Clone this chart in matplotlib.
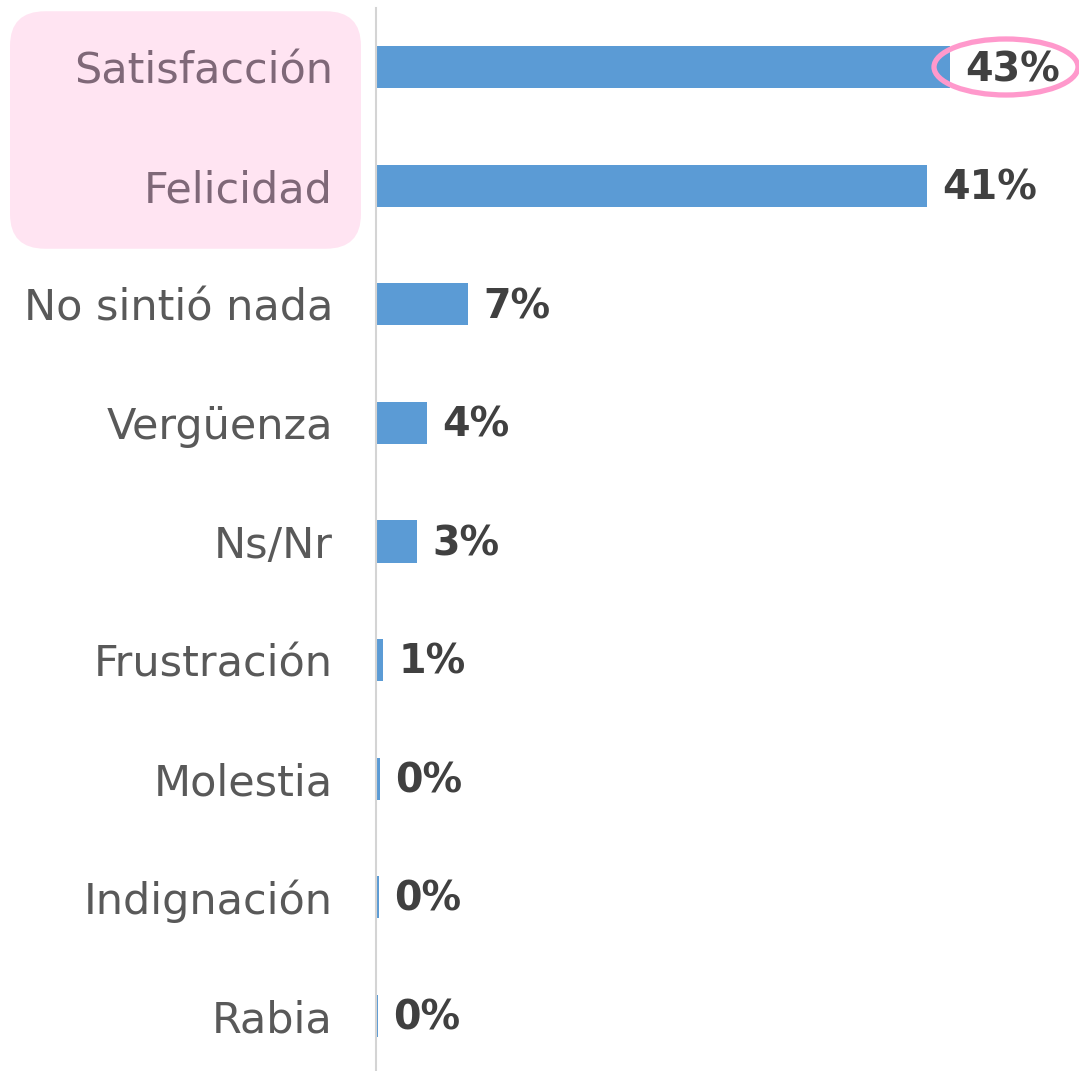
import matplotlib.pyplot as plt
from matplotlib.patches import FancyBboxPatch, Ellipse

categorias = ["Satisfacción", "Felicidad", "No sintió nada", "Vergüenza", "Ns/Nr",
              "Frustración", "Molestia", "Indignación", "Rabia"]
valores = [43.0, 41.3, 6.9, 3.8, 3.1, 0.55, 0.3, 0.2, 0.15]
etiquetas = ["43%", "41%", "7%", "4%", "3%", "1%", "0%", "0%", "0%"]

W, H = 1079, 1071
fig = plt.figure(figsize=(W / 100, H / 100), dpi=100)
ax = fig.add_axes([376 / W, 1 - 1075 / H, 1 - 376 / W, (1075 - 8) / H])
ax.set_zorder(2)
ax.patch.set_alpha(0)

y = list(range(len(categorias)))
ax.barh(y, valores, height=0.355, color="#5B9BD5", zorder=2)
ax.set_ylim(len(categorias) - 0.5, -0.5)
ax.set_xlim(0, 52.7)

for i, (v, t) in enumerate(zip(valores, etiquetas)):
    ax.annotate(t, (v, i), xytext=(11, -2), textcoords="offset points",
                va="center", ha="left", fontsize=28.5, fontweight="bold",
                color="#404040")

ax.set_yticks(y)
ax.set_yticklabels(categorias, fontsize=31, color="#595959")
for i, lab in enumerate(ax.get_yticklabels()):
    if i < 2:
        lab.set_color("#7F6878")
ax.tick_params(axis="y", length=0, pad=31)
ax.set_xticks([])
for s in ["top", "right", "bottom"]:
    ax.spines[s].set_visible(False)
ax.spines["left"].set_color("#D4D4D4")
ax.spines["left"].set_linewidth(1.5)

# caja rosa detrás de las dos primeras etiquetas
caja = FancyBboxPatch((45 / W, 1 - 214 / H), 281 / W, 168 / H,
                      boxstyle="round", transform=fig.transFigure,
                      facecolor="#FFE4F2", edgecolor="none", zorder=0)
caja.set_boxstyle("round", pad=35 / W, rounding_size=35 / W)
fig.patches.append(caja)

# elipse alrededor del 43%
elipse = Ellipse((1006 / W, 1 - 67 / H), 144 / W, 56 / H,
                 transform=fig.transFigure, fill=False,
                 edgecolor="#FF99CC", linewidth=3.8, zorder=5)
fig.add_artist(elipse)

fig.savefig("out.png", dpi=100)
